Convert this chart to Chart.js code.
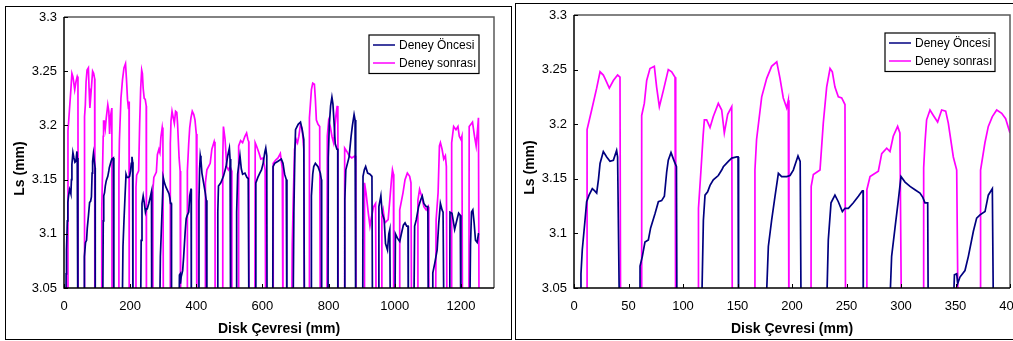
<!DOCTYPE html>
<html><head><meta charset="utf-8">
<script src="https://cdn.jsdelivr.net/npm/chart.js@4.4.0/dist/chart.umd.min.js"></script>
<style>
html,body{margin:0;padding:0;background:#fff;overflow:hidden;width:1013px;height:341px;position:relative;}
.frame{position:absolute;border:1px solid #000;box-sizing:border-box;background:#fff;}
canvas{position:absolute;}
</style></head><body>
<div class="frame" style="left:5px;top:6px;width:507px;height:334px;"></div>
<div class="frame" style="left:515px;top:3px;width:505px;height:337px;"></div>
<canvas id="c1" width="505" height="332" style="left:6px;top:7px;"></canvas>
<canvas id="c2" width="497" height="335" style="left:516px;top:4px;"></canvas>
<script>
// ---- data ----
const seriesNames = ['Deney Öncesi', 'Deney sonrası'];
const seriesColors = ['#000080', '#FF00FF'];
const xTitle = 'Disk Çevresi (mm)';
const yTitle = 'Ls (mm)';
const yTicks = [3.05, 3.1, 3.15, 3.2, 3.25, 3.3];
const yTickLabels = ['3.05', '3.1', '3.15', '3.2', '3.25', '3.3'];
const xTicksFull = [0, 200, 400, 600, 800, 1000, 1200];
const xTickLabelsFull = ['0', '200', '400', '600', '800', '1000', '1200'];
const xTicksZoom = [0, 50, 100, 150, 200, 250, 300, 350, 400];
const xTickLabelsZoom = ['0', '50', '100', '150', '200', '250', '300', '350', '400'];

// Deney Öncesi: [mm, Ls]
const oncesi = [
[6,3.0],[6.4,3.063],[7.6,3.085],[10.1,3.112],[11.6,3.129],[13.8,3.135],[16.8,3.141],[19,3.139],[20.8,3.137],[22.5,3.150],[23.9,3.164],[26.9,3.175],[30,3.170],[33,3.166],[36.1,3.167],[39.1,3.176],[40,3.170],[42,3.0],
[60.5,3.0],[60.6,3.070],[62.7,3.079],[65.1,3.092],[68.2,3.094],[70.3,3.105],[74.3,3.118],[77.4,3.129],[80.4,3.130],[82.9,3.134],[85,3.156],[86.5,3.167],[89,3.174],[92,3.166],[94,3.161],[94.5,3.0],
[116.5,3.0],[118.7,3.112],[120.2,3.135],[122.6,3.138],[124.8,3.144],[127.8,3.149],[132.4,3.153],[135.5,3.158],[137,3.161],[141.6,3.166],[144.7,3.169],[149.3,3.170],[150.5,3.170],[151,3.0],
[175,3.0],[178.3,3.088],[181.3,3.112],[184.4,3.134],[187.5,3.155],[190.5,3.152],[195.1,3.152],[198.2,3.153],[201.2,3.158],[203.5,3.165],[205.5,3.171],[207.5,3.166],[208.5,3.0],
[231,3.0],[233.3,3.094],[235.8,3.128],[239.4,3.135],[242.5,3.129],[246.2,3.120],[248.6,3.123],[251.7,3.123],[256.3,3.128],[260.9,3.134],[264.5,3.139],[265.2,3.139],[265.4,3.0],
[288.4,3.0],[291.4,3.079],[294.5,3.105],[297.5,3.130],[300,3.152],[303.7,3.147],[308.3,3.143],[312.8,3.140],[317.4,3.137],[320,3.133],[322,3.128],[324.5,3.128],[325.1,3.0],
[347,3.0],[349,3.062],[351.1,3.063],[352,3.054],[354.1,3.060],[358.7,3.066],[361.8,3.079],[366.4,3.102],[369.4,3.114],[372.5,3.117],[377.1,3.120],[380.1,3.135],[383.8,3.141],[384.3,3.141],[385,3.0],
[407,3.0],[408,3.130],[410,3.160],[412,3.172],[414,3.168],[417,3.156],[422,3.147],[427,3.138],[430,3.131],[432,3.0],
[464,3.0],[465,3.120],[467,3.144],[474,3.147],[482,3.153],[490,3.162],[495,3.172],[500,3.179],[502,3.169],[504,3.0],
[520,3.0],[522,3.120],[525,3.155],[532,3.172],[536,3.160],[540,3.155],[547,3.156],[553,3.152],[557,3.151],[559.5,3.0],
[578,3.0],[580,3.147],[586,3.152],[592,3.156],[597,3.159],[602,3.165],[607,3.175],[610,3.179],[613,3.172],[614,3.0],
[631,3.0],[632,3.162],[637,3.165],[647,3.167],[657,3.169],[662,3.165],[667,3.155],[672,3.150],[674,3.0],
[692,3.0],[695,3.120],[698,3.175],[700,3.196],[708,3.201],[715,3.203],[720,3.196],[725,3.187],[727,3.0],
[747,3.0],[748,3.135],[752,3.155],[755,3.162],[760,3.165],[768,3.162],[775,3.156],[778,3.150],[779,3.0],
[798,3.0],[799,3.170],[802,3.200],[806,3.218],[810,3.226],[813,3.220],[816,3.205],[820,3.183],[825,3.178],[827.5,3.178],[828,3.0],
[848,3.0],[849,3.131],[852,3.159],[857,3.165],[862,3.171],[868,3.190],[872,3.200],[877,3.210],[880,3.205],[882,3.0],
[903,3.0],[904,3.153],[908,3.159],[912,3.162],[918,3.156],[925,3.155],[931,3.153],[933,3.0],
[950,3.0],[952,3.125],[958,3.135],[962,3.119],[968,3.113],[972,3.091],[978,3.085],[982,3.100],[985,3.104],[987,3.0],
[1000,3.0],[1002,3.100],[1008,3.096],[1015,3.093],[1020,3.100],[1026,3.108],[1031,3.110],[1036,3.107],[1040,3.107],[1041,3.0],
[1057,3.0],[1060,3.107],[1065,3.113],[1072,3.125],[1078,3.131],[1083,3.135],[1088,3.128],[1095,3.125],[1100,3.125],[1102,3.0],
[1113,3.0],[1115,3.064],[1121,3.073],[1128,3.085],[1133,3.110],[1138,3.128],[1143,3.122],[1146,3.120],[1149,3.0],
[1166,3.0],[1167,3.120],[1173,3.119],[1181,3.104],[1188,3.113],[1193,3.119],[1198,3.117],[1200,3.0],
[1226,3.0],[1229,3.090],[1232,3.120],[1236,3.122],[1240,3.110],[1244,3.094],[1249,3.092],[1253,3.100],[1255,3.100]
];

// Deney sonrası: [mm, Ls]
const sonrasi = [
[12,3.0],[12,3.195],[16.2,3.213],[20.8,3.233],[23.9,3.248],[26.9,3.245],[28.4,3.242],[32.4,3.233],[36.1,3.240],[40,3.245],[42.2,3.243],[42.8,3.0],
[62,3.0],[62.1,3.208],[64.5,3.219],[66.7,3.240],[69.7,3.251],[73.7,3.253],[75.8,3.234],[78.3,3.216],[82,3.231],[86.5,3.250],[89.6,3.248],[92.7,3.243],[93.3,3.0],
[114,3.0],[114.2,3.123],[116.5,3.158],[118.5,3.190],[119.6,3.204],[121.7,3.204],[124.8,3.197],[127.8,3.207],[132.4,3.219],[135.5,3.213],[137.9,3.192],[141,3.209],[144.7,3.216],[145.3,3.0],
[165.8,3.0],[166,3.158],[167.5,3.186],[172.2,3.225],[176.8,3.242],[181.3,3.253],[186,3.257],[189,3.242],[192,3.224],[195.1,3.215],[196.6,3.222],[197.2,3.0],
[217.4,3.0],[217.6,3.143],[219.6,3.154],[225.7,3.158],[228.7,3.201],[231.8,3.234],[234.9,3.251],[237,3.248],[239.4,3.234],[242.5,3.225],[245.6,3.224],[248.6,3.218],[249.2,3.0],
[268.5,3.0],[268.7,3.140],[271.6,3.152],[279.2,3.157],[282.3,3.173],[286.9,3.178],[289.9,3.175],[292.9,3.189],[296.9,3.198],[299,3.192],[300.6,3.0],
[320.5,3.0],[320.8,3.160],[322,3.183],[323.5,3.204],[326.6,3.213],[329.7,3.208],[333.6,3.202],[337.3,3.213],[341,3.212],[343.4,3.201],[348,3.170],[351.1,3.158],[352.6,3.0],
[372.5,3.0],[373,3.158],[377,3.183],[380.1,3.198],[383.8,3.207],[387.8,3.213],[392.4,3.210],[396,3.205],[400,3.192],[401.5,3.185],[402,3.0],
[427,3.0],[427.5,3.147],[432,3.159],[442,3.165],[447,3.178],[454,3.185],[456.5,3.181],[457,3.0],
[479,3.0],[480,3.170],[482,3.199],[487,3.187],[492,3.162],[497,3.159],[502,3.162],[507,3.158],[507.5,3.0],
[527,3.0],[528,3.181],[534,3.186],[540,3.184],[547,3.190],[552,3.193],[556,3.187],[558.5,3.185],[559,3.0],
[577,3.0],[578,3.184],[582,3.181],[589,3.175],[595,3.169],[602,3.170],[608,3.159],[610,3.0],
[632,3.0],[632.5,3.165],[640,3.168],[647,3.170],[654,3.174],[660,3.160],[662,3.0],
[688,3.0],[690,3.090],[693,3.130],[697,3.178],[702,3.187],[706,3.184],[710,3.190],[715,3.201],[720,3.197],[725,3.178],[727,3.0],
[741,3.0],[742,3.207],[748,3.233],[752,3.239],[757,3.238],[760,3.224],[763,3.205],[768,3.201],[773,3.199],[775,3.0],
[795,3.0],[796,3.190],[800,3.204],[805,3.199],[810,3.190],[815,3.184],[822,3.209],[826,3.218],[828,3.200],[829,3.0],
[848,3.0],[848.5,3.179],[855,3.176],[862,3.172],[870,3.170],[880,3.172],[882,3.165],[883,3.0],
[908,3.0],[908.5,3.147],[913,3.138],[920,3.119],[925,3.107],[930,3.116],[936,3.125],[942,3.128],[944,3.0],
[960,3.0],[961,3.116],[965,3.122],[970,3.110],[980,3.113],[985,3.131],[990,3.150],[993,3.159],[996,3.155],[997,3.0],
[1014,3.0],[1015,3.122],[1025,3.138],[1031,3.150],[1038,3.156],[1045,3.153],[1049,3.147],[1051,3.0],
[1068,3.0],[1070,3.131],[1075,3.141],[1081,3.135],[1088,3.125],[1095,3.122],[1101,3.125],[1103,3.0],
[1123,3.0],[1125,3.113],[1131,3.138],[1135,3.181],[1138,3.184],[1143,3.178],[1148,3.169],[1153,3.172],[1156,3.162],[1158,3.0],
[1171,3.0],[1172,3.184],[1178,3.199],[1185,3.196],[1191,3.199],[1195,3.190],[1200,3.187],[1203,3.190],[1205,3.0],
[1224,3.0],[1225,3.199],[1235,3.203],[1241,3.190],[1246,3.181],[1251,3.199],[1253,3.207],[1255,3.0]
];

// ---- drawing ----
const FONT = '"Liberation Sans", Arial, sans-serif';

const decor = {
  id: 'decor',
  afterDatasetsDraw(chart) {
    const {ctx, chartArea: a, scales: {x, y}} = chart;
    ctx.save();
    // plot area border
    ctx.lineWidth = 1.5;
    ctx.strokeStyle = '#5a5a5a';
    ctx.beginPath();
    ctx.moveTo(a.left, a.top); ctx.lineTo(a.right, a.top); ctx.lineTo(a.right, a.bottom);
    ctx.stroke();
    ctx.strokeStyle = '#000';
    ctx.beginPath();
    ctx.moveTo(a.left, a.top); ctx.lineTo(a.left, a.bottom); ctx.lineTo(a.right, a.bottom);
    ctx.stroke();
    // inside tick marks
    ctx.lineWidth = 1;
    ctx.beginPath();
    y.ticks.forEach(t => {
      const py = Math.round(y.getPixelForValue(t.value)) + 0.5;
      ctx.moveTo(a.left, py); ctx.lineTo(a.left + 4, py);
    });
    x.ticks.forEach(t => {
      const px = Math.round(x.getPixelForValue(t.value)) + 0.5;
      ctx.moveTo(px, a.bottom); ctx.lineTo(px, a.bottom - 4);
    });
    ctx.stroke();
    // axis titles
    ctx.fillStyle = '#000';
    ctx.font = 'bold 14px ' + FONT;
    ctx.textAlign = 'center';
    ctx.textBaseline = 'alphabetic';
    ctx.fillText(xTitle, (a.left + a.right) / 2, a.bottom + 45);
    ctx.save();
    ctx.translate(a.left - 40, (a.top + a.bottom) / 2 + 16);
    ctx.rotate(-Math.PI / 2);
    ctx.fillText(yTitle, 0, 0);
    ctx.restore();
    // legend
    const bw = 110, bh = 38.5;
    const bx = a.right - 15 - bw, by = a.top + 18;
    ctx.fillStyle = '#fff';
    ctx.fillRect(bx, by, bw, bh);
    ctx.lineWidth = 1.2;
    ctx.strokeStyle = '#000';
    ctx.strokeRect(bx, by, bw, bh);
    ctx.font = '12px ' + FONT;
    ctx.textAlign = 'left';
    ctx.textBaseline = 'middle';
    chart.data.datasets.forEach((ds, i) => {
      const ly = by + 10 + i * 18;
      ctx.strokeStyle = ds.borderColor;
      ctx.lineWidth = 1.5;
      ctx.beginPath(); ctx.moveTo(bx + 4, ly); ctx.lineTo(bx + 26, ly); ctx.stroke();
      ctx.fillStyle = '#000';
      ctx.fillText(ds.label, bx + 30, ly + 0.5);
    });
    ctx.restore();
  }
};

function makeChart(id, xMax, xTicks, xLabels, pad) {
  const datasets = [oncesi, sonrasi].map((s, i) => ({
    label: seriesNames[i],
    data: s.map(([mm, v]) => ({x: mm, y: v})),
    borderColor: seriesColors[i],
    backgroundColor: seriesColors[i],
    borderWidth: 1.7,
    pointRadius: 0,
    tension: 0,
    fill: false
  }));
  return new Chart(document.getElementById(id), {
    type: 'line',
    data: {datasets},
    plugins: [decor],
    options: {
      responsive: false,
      animation: false,
      events: [],
      devicePixelRatio: 1,
      layout: {padding: pad},
      plugins: {legend: {display: false}, tooltip: {enabled: false}},
      scales: {
        x: {
          type: 'linear', min: 0, max: xMax,
          grid: {display: false, drawTicks: false},
          border: {display: false},
          ticks: {
            font: {family: FONT, size: 13}, color: '#000', padding: 11,
            maxRotation: 0, autoSkip: false,
            callback: (v) => xLabels[xTicks.indexOf(v)]
          },
          afterBuildTicks: s => { s.ticks = xTicks.map(v => ({value: v})); },
          afterFit: s => { s.height = 51; s.paddingLeft = 0; s.paddingRight = 0; }
        },
        y: {
          type: 'linear', min: 3.05, max: 3.3,
          grid: {display: false, drawTicks: false},
          border: {display: false},
          ticks: {
            font: {family: FONT, size: 13}, color: '#000', padding: 7,
            autoSkip: false,
            callback: (v) => yTickLabels[yTicks.indexOf(v)]
          },
          afterBuildTicks: s => { s.ticks = yTicks.map(v => ({value: v})); },
          afterFit: s => { s.width = 58; s.paddingTop = 0; s.paddingBottom = 0; }
        }
      }
    }
  });
}

makeChart('c1', 1300, xTicksFull, xTickLabelsFull, {left: 0, top: 10, right: 17, bottom: 0});
makeChart('c2', 400, xTicksZoom, xTickLabelsZoom, {left: 0, top: 11, right: 3, bottom: 0});
</script>
</body></html>
